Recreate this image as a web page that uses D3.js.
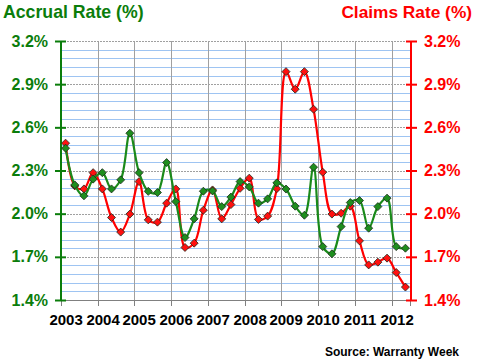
<!DOCTYPE html>
<html><head><meta charset="utf-8">
<script src="https://cdn.jsdelivr.net/npm/d3@7"></script>
<style>html,body{margin:0;padding:0;background:#fff;}svg{display:block;font-family:"Liberation Sans",Arial,sans-serif;}</style>
</head><body><svg id="c" width="480" height="360"></svg>
<script>
const years = ["2003","2004","2005","2006","2007","2008","2009","2010","2011","2012"];
const quarters = [];
years.forEach(y => [1,2,3,4].forEach(q => quarters.push(y + " Q" + q)));
quarters.splice(38); // 2003 Q1 .. 2012 Q2
const accrualRate = [2.455,2.200,2.124,2.240,2.285,2.172,2.235,2.559,2.285,2.155,
  2.147,2.355,2.084,1.834,1.964,2.156,2.158,2.049,2.115,2.223,
  2.186,2.073,2.103,2.214,2.171,2.052,1.989,2.323,1.771,1.721,
  1.910,2.077,2.091,1.899,2.049,2.108,1.771,1.760];
const claimsRate = [2.490,2.193,2.172,2.285,2.172,1.973,1.872,1.997,2.223,1.957,
  1.941,2.073,2.172,1.765,1.795,2.024,2.165,1.964,2.063,2.176,
  2.247,1.960,1.983,2.174,2.987,2.865,2.987,2.726,2.288,1.997,
  2.003,2.052,1.811,1.644,1.663,1.691,1.591,1.490];
const yTicks = [1.4,1.7,2.0,2.3,2.6,2.9,3.2];
const minorStep = 0.06;

const svg = d3.select("#c");
const L = 61, R = 410, T = 41, B = 300;
const green = "#0b7d0b", red = "#ff0000";
const x = d3.scaleBand().domain(quarters).range([L, R]).padding(0);
const y = d3.scaleLinear().domain([1.4, 3.2]).range([B, T]);
const yR = d3.scaleLinear().domain([1.4, 3.2]).range([B, T]);

// minor grid (blue)
const minors = d3.range(1.4, 3.2 + 1e-9, minorStep).filter(v => !yTicks.some(t => Math.abs(t - v) < 1e-6));
svg.append("g").selectAll("line").data(minors).join("line")
  .attr("x1", L).attr("x2", R).attr("y1", d => Math.round(y(d)) + 0.5).attr("y2", d => Math.round(y(d)) + 0.5)
  .attr("stroke", "#9ec4f2").attr("stroke-width", 1);
// major grid (gray)
svg.append("g").selectAll("line").data(yTicks.filter(v => v > 1.4)).join("line")
  .attr("x1", L).attr("x2", R).attr("y1", d => Math.round(y(d)) + 0.5).attr("y2", d => Math.round(y(d)) + 0.5)
  .attr("stroke", "#a0a0a0").attr("stroke-width", 1).attr("stroke-dasharray", "2,1");
// vertical grid at year boundaries
const yearStarts = quarters.filter((q, i) => i % 4 === 0);
svg.append("g").selectAll("line").data(yearStarts.slice(1)).join("line")
  .attr("x1", d => Math.round(x(d)) + 0.5).attr("x2", d => Math.round(x(d)) + 0.5).attr("y1", T).attr("y2", B)
  .attr("stroke", "#a0a0a0").attr("stroke-width", 1);

// x axis
const xAxis = svg.append("g").attr("transform", `translate(0,${B})`)
  .call(d3.axisBottom(x).tickValues(yearStarts).tickSize(6).tickFormat(d => d.slice(0, 4)));
xAxis.select(".domain").attr("stroke", "#808080");
xAxis.selectAll(".tick").attr("transform", d => `translate(${Math.round(x(d)) + 0.5},0)`);
xAxis.selectAll(".tick line").attr("stroke", "#808080");
xAxis.selectAll(".tick text").attr("x", x.bandwidth() / 2).attr("y", 0).attr("dy", 0)
  .attr("transform", "translate(0,25)")
  .attr("font-family", "Liberation Sans, Arial, sans-serif").attr("font-size", 15).attr("font-weight", "bold").attr("fill", "#000");

// left axis
const yl = svg.append("g").attr("transform", `translate(${L},0)`)
  .call(d3.axisLeft(y).tickValues(yTicks).tickSize(6).tickPadding(7).tickFormat(d => d.toFixed(1) + "%"));
yl.select(".domain").attr("stroke", green).attr("stroke-width", 2).attr("d", `M0,${T}V${B}`);
yl.selectAll(".tick line").attr("stroke", green).attr("stroke-width", 2).attr("x1", 5).attr("x2", -6);
yl.selectAll(".tick text").attr("font-family", "Liberation Sans, Arial, sans-serif").attr("font-size", 16)
  .attr("font-weight", "bold").attr("fill", green).attr("x", -13);

// right axis
const yr = svg.append("g").attr("transform", `translate(${R + 1},0)`)
  .call(d3.axisRight(yR).tickValues(yTicks).tickSize(6).tickPadding(7).tickFormat(d => d.toFixed(1) + "%"));
yr.select(".domain").attr("stroke", red).attr("stroke-width", 2).attr("d", `M0,${T}V${B}`);
yr.selectAll(".tick line").attr("stroke", red).attr("stroke-width", 2).attr("x1", -5).attr("x2", 6);
yr.selectAll(".tick text").attr("font-family", "Liberation Sans, Arial, sans-serif").attr("font-size", 16)
  .attr("font-weight", "bold").attr("fill", red).attr("x", 13);

// lines
const cx = i => x(quarters[i]) + x.bandwidth() / 2;
function series(vals, sc, col, fill) {
  const line = d3.line().x((d, i) => cx(i)).y(d => sc(d)).curve(d3.curveCatmullRom.alpha(0.5));
  svg.append("path").datum(vals).attr("d", line).attr("fill", "none").attr("stroke", col).attr("stroke-width", 2.2);
  svg.append("g").selectAll("path").data(vals).join("path")
    .attr("d", "M0,-4L4,0L0,4L-4,0Z")
    .attr("transform", (d, i) => `translate(${cx(i)},${sc(d)})`)
    .attr("fill", fill).attr("stroke", "#1a2a1a").attr("stroke-width", 0.8);
}
series(claimsRate, yR, "#ff0000", "#ff1010");
series(accrualRate, y, "#1a8a1a", "#1e8e1e");

// titles
svg.append("text").attr("x", 3).attr("y", 18).text("Accrual Rate (%)")
  .attr("font-size", 17.7).attr("font-weight", "bold").attr("fill", green);
svg.append("text").attr("x", 472).attr("y", 18).attr("text-anchor", "end").text("Claims Rate (%)")
  .attr("font-size", 17.3).attr("font-weight", "bold").attr("fill", red);
svg.append("text").attr("x", 459).attr("y", 356).attr("text-anchor", "end").text("Source: Warranty Week")
  .attr("font-size", 12).attr("font-weight", "bold").attr("fill", "#000");
</script></body></html>
